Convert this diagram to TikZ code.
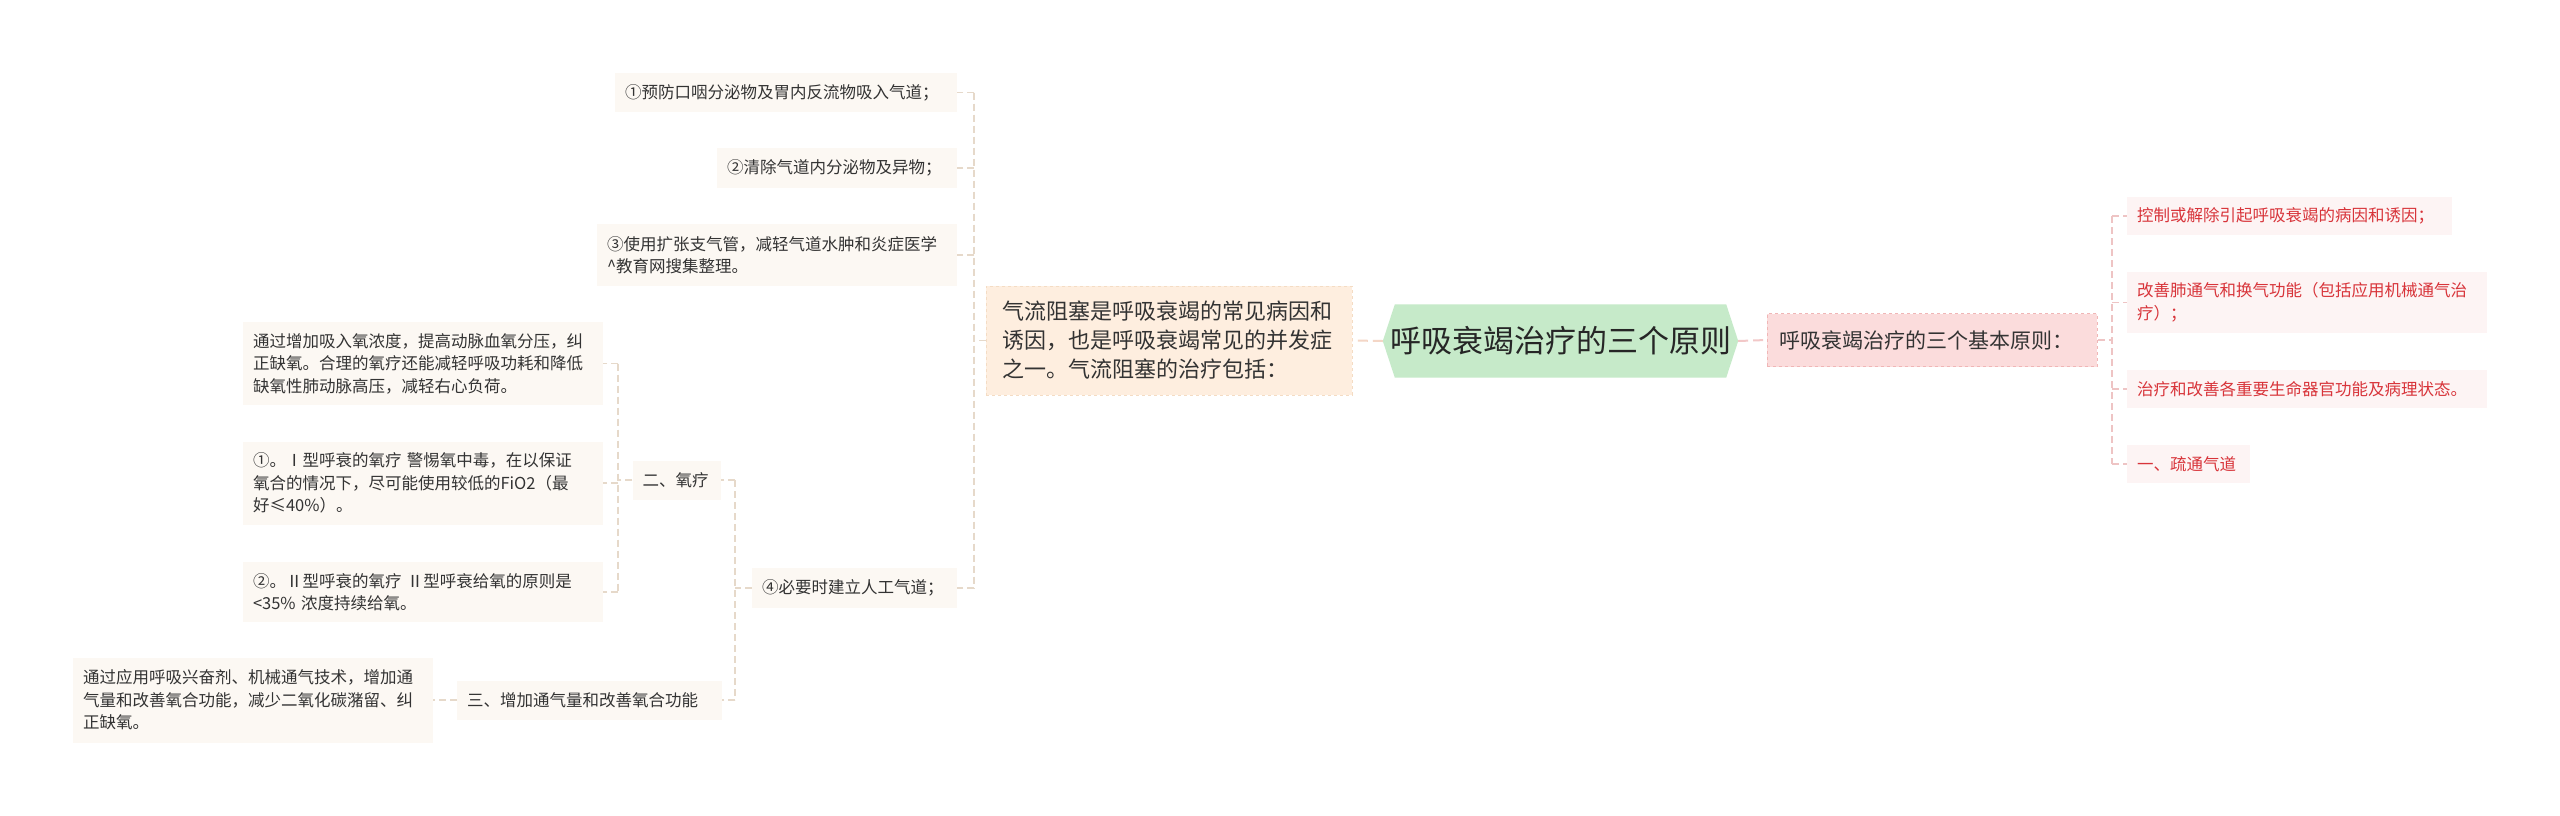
\documentclass[tikz,border=0pt]{standalone}
\usepackage{fontspec}
\setmainfont{Noto Sans CJK SC}
\usetikzlibrary{backgrounds}
\definecolor{leaffill}{HTML}{FCF8F3}
\definecolor{leaftext}{HTML}{333333}
\definecolor{rfill}{HTML}{FDF4F4}
\definecolor{rtext}{HTML}{D8343A}
\definecolor{pinkfill}{HTML}{FBDCDC}
\definecolor{pinkline}{HTML}{F0B6B6}
\definecolor{peachfill}{HTML}{FEEEDF}
\definecolor{peachline}{HTML}{F4DCC4}
\definecolor{rootfill}{HTML}{C6EAC9}
\definecolor{lcol}{HTML}{E6D9CA}
\definecolor{rcol}{HTML}{EEC4C4}
\definecolor{ccolP}{HTML}{F4D6C6}
\definecolor{ccolR}{HTML}{F2C8C8}
\begin{document}
\begin{tikzpicture}[x=1pt,y=-1pt,
  box/.style={rectangle, inner xsep=10pt, inner ysep=0pt, align=left, anchor=center,
    font=\fontsize{16.5}{22.5}\selectfont},
  leaf/.style={box, fill=leaffill, text=leaftext},
  rleaf/.style={box, fill=rfill, text=rtext},
  lconn/.style={draw=lcol, line width=1.2pt, dash pattern=on 7pt off 4pt},
  rconn/.style={draw=rcol, line width=1.2pt, dash pattern=on 7pt off 4pt},
]
% ---------- central ----------
\node[font=\fontsize{31}{37}\selectfont, text=black!85, minimum width=355pt, minimum height=73pt, inner sep=0pt] (root) at (1560.5,341) {呼吸衰竭治疗的三个原则};
\node[rectangle, fill=peachfill, draw=peachline, dashed, line width=1pt, text=leaftext,
  font=\fontsize{22}{29}\selectfont, align=left, inner xsep=16pt, inner ysep=0pt,
  text width=334pt, minimum height=109pt] (peach) at (1169,340.5)
  {气流阻塞是呼吸衰竭的常见病因和\\诱因，也是呼吸衰竭常见的并发症\\之一。气流阻塞的治疗包括：};
\node[rectangle, fill=pinkfill, draw=pinkline, dashed, line width=1pt, text=leaftext,
  font=\fontsize{21}{28}\selectfont, align=left, inner xsep=12pt, inner ysep=0pt,
  text width=306pt, minimum height=53pt] (pink) at (1932,340)
  {呼吸衰竭治疗的三个基本原则：};

% ---------- right children ----------
\node[rleaf, text width=305pt, minimum height=38pt] (r1) at (2289.5,216) {控制或解除引起呼吸衰竭的病因和诱因；};
\node[rleaf, text width=340pt, minimum height=61pt] (r2) at (2307,302.5) {改善肺通气和换气功能（包括应用机械通气治\\疗）；};
\node[rleaf, text width=340pt, minimum height=38pt] (r3) at (2307,389) {治疗和改善各重要生命器官功能及病理状态。};
\node[rleaf, text width=103pt, minimum height=38pt] (r4) at (2188.5,464) {一、疏通气道};

% ---------- left children ----------
\node[leaf, text width=322pt, minimum height=39pt] (a) at (786,92.5) {①预防口咽分泌物及胃内反流物吸入气道；};
\node[leaf, text width=220pt, minimum height=40pt] (b) at (837,168) {②清除气道内分泌物及异物；};
\node[leaf, text width=340pt, minimum height=62pt] (c) at (777,255) {③使用扩张支气管，减轻气道水肿和炎症医学\\\textasciicircum 教育网搜集整理。};
\node[leaf, text width=185pt, minimum height=40pt] (d) at (854.5,588) {④必要时建立人工气道；};

\node[leaf, text width=68pt, minimum height=39pt] (o) at (676.5,480) {二、氧疗};
\node[leaf, text width=340pt, minimum height=83pt] (o1) at (423,363.5) {通过增加吸入氧浓度，提高动脉血氧分压，纠\\正缺氧。合理的氧疗还能减轻呼吸功耗和降低\\缺氧性肺动脉高压，减轻右心负荷。};
\node[leaf, text width=340pt, minimum height=83pt] (o2) at (423,483) {①。Ⅰ型呼衰的氧疗 警惕氧中毒，在以保证\\氧合的情况下，尽可能使用较低的FiO2（最\\好≤40\%）。};
\node[leaf, text width=340pt, minimum height=60pt] (o3) at (423,592) {②。Ⅱ型呼衰的氧疗 Ⅱ型呼衰给氧的原则是\\<35\% 浓度持续给氧。};

\node[leaf, text width=245pt, minimum height=39pt] (t) at (589.5,700) {三、增加通气量和改善氧合功能};
\node[leaf, text width=340pt, minimum height=85pt] (t1) at (253,700) {通过应用呼吸兴奋剂、机械通气技术，增加通\\气量和改善氧合功能，减少二氧化碳潴留、纠\\正缺氧。};

% ---------- background: page and hexagon ----------
\begin{scope}[on background layer]
  \fill[white] (0,0) rectangle (2560,815);
  \fill[rootfill] (root.west) -- ([xshift=12pt]root.north west) -- ([xshift=-12pt]root.north east)
    -- (root.east) -- ([xshift=-12pt]root.south east) -- ([xshift=12pt]root.south west) -- cycle;
\end{scope}

% ---------- connectors ----------
\draw[draw=ccolP, line width=2pt, dash pattern=on 10pt off 5pt] (root.west) -- (peach.east);
\draw[draw=ccolR, line width=2pt, dash pattern=on 10pt off 5pt] (root.east) -- (pink.west);

\coordinate (rj) at (2112,340);
\draw[rconn] (pink.east) -- (rj);
\draw[rconn] (rj |- r1.west) -- (rj |- r4.west);
\foreach \n in {r1,r2,r3,r4} { \draw[rconn] (rj |- \n.west) -- (\n.west); }

\coordinate (lj) at (974,340.5);
\draw[lconn] (peach.west) -- (lj);
\draw[lconn] (lj |- a.east) -- (lj |- d.east);
\foreach \n in {a,b,c,d} { \draw[lconn] (lj |- \n.east) -- (\n.east); }

\coordinate (dj) at (735,588);
\draw[lconn] (d.west) -- (dj);
\draw[lconn] (dj |- o.east) -- (dj |- t.east);
\foreach \n in {o,t} { \draw[lconn] (dj |- \n.east) -- (\n.east); }

\coordinate (oj) at (618,480);
\draw[lconn] (o.west) -- (oj);
\draw[lconn] (oj |- o1.east) -- (oj |- o3.east);
\foreach \n in {o1,o2,o3} { \draw[lconn] (oj |- \n.east) -- (\n.east); }

\draw[lconn] (t.west) -- (t1.east);
\end{tikzpicture}
\end{document}
